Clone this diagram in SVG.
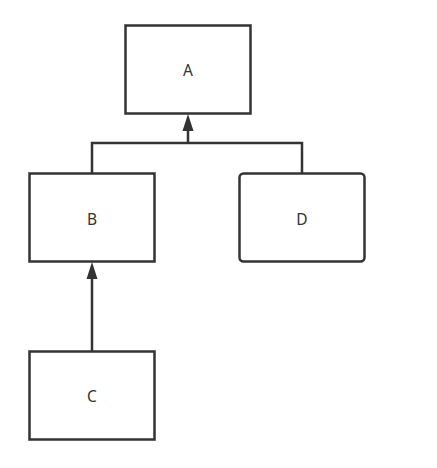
<svg xmlns="http://www.w3.org/2000/svg" width="437" height="468" viewBox="0 0 437 468">
<style>
.box{fill:#fff;stroke:#333;stroke-width:2.5}
.lbl{font-family:"Noto Sans","Open Sans",sans-serif;font-size:15.5px;fill:#333;text-anchor:middle;dominant-baseline:central}
.conn{fill:none;stroke:#333;stroke-width:2.5}
.head{fill:#333}
</style>
<rect width="437" height="468" fill="#fff"/>
<g id="connectors">
<path class="conn" d="M92 173V143H302V173M188 143V128"/>
<polygon class="head" points="188,114 182.5,131 193.5,131"/>
<path class="conn" d="M92 351V276"/>
<polygon class="head" points="92,262 86.5,279 97.5,279"/>
</g>
<g id="A"><rect class="box" x="125.5" y="25.5" width="125" height="88"/><text class="lbl" x="188" y="70">A</text></g>
<g id="B"><rect class="box" x="29.5" y="173.5" width="125" height="88"/><text class="lbl" x="92" y="219">B</text></g>
<g id="D"><rect class="box" x="239.5" y="173.5" width="125" height="88" rx="4"/><text class="lbl" x="302" y="219">D</text></g>
<g id="C"><rect class="box" x="29.5" y="351.5" width="125" height="88"/><text class="lbl" x="92" y="396">C</text></g>
</svg>
